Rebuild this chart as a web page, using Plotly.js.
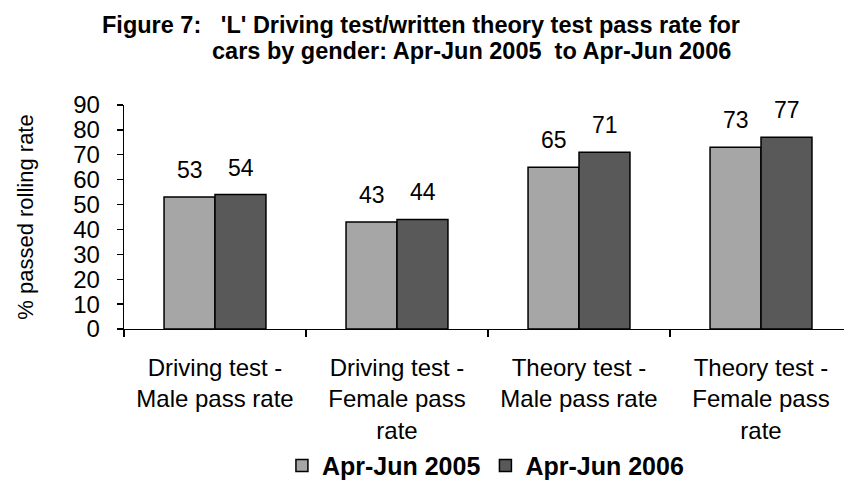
<!DOCTYPE html>
<html>
<head>
<meta charset="utf-8">
<script src="https://cdn.plot.ly/plotly-3.0.1.min.js"></script>
<style>html,body{margin:0;padding:0;background:#fff;}#chart{width:844px;height:489px;}</style>
</head>
<body>
<div id="chart"></div>
<script>
var categories = [
  "Driving test -<br>Male pass rate",
  "Driving test -<br>Female pass<br>rate",
  "Theory test -<br>Male pass rate",
  "Theory test -<br>Female pass<br>rate"
];
var seriesNames = ["Apr-Jun 2005", "Apr-Jun 2006"];
var values2005 = [53, 43, 65, 73];
var values2006 = [54, 44, 71, 77];
var titleLine1 = "Figure 7:&nbsp;&nbsp; 'L' Driving test/written theory test pass rate for";
var titleLine2 = "cars by gender: Apr-Jun 2005&nbsp; to Apr-Jun 2006";
var yTitle = "% passed rolling rate";
var yTicks = [0, 10, 20, 30, 40, 50, 60, 70, 80, 90];

var FONT = "Arial, 'Liberation Sans', sans-serif";
var colors = ["#A6A6A6", "#595959"];
var seriesValues = [values2005, values2006];

var traces = seriesValues.map(function (vals, i) {
  return {
    type: "bar",
    name: seriesNames[i],
    x: categories,
    y: vals,
    marker: { color: colors[i], line: { color: "#000", width: 1.5 } },
    hoverinfo: "none"
  };
});

var annotations = [];
seriesValues.forEach(function (vals, i) {
  vals.forEach(function (v, j) {
    annotations.push({
      x: categories[j], y: v, xref: "x", yref: "y",
      text: String(v), showarrow: false,
      xshift: i === 0 ? -25.5 : 25.5, yshift: 27,
      yanchor: "middle", xanchor: "center",
      font: { family: FONT, size: 23, color: "#000" }
    });
  });
});
annotations.push({
  xref: "paper", yref: "paper", x: 0.4125, y: 1.359, xanchor: "center", yanchor: "middle",
  text: "<b>" + titleLine1 + "</b>", showarrow: false,
  font: { family: FONT, size: 23.5, color: "#000" }
});
annotations.push({
  xref: "paper", yref: "paper", x: 0.4826, y: 1.24, xanchor: "center", yanchor: "middle",
  text: "<b>" + titleLine2 + "</b>", showarrow: false,
  font: { family: FONT, size: 23.5, color: "#000" }
});

var layout = {
  width: 844, height: 489,
  margin: { l: 124, r: 0, t: 105, b: 153, pad: 0 },
  paper_bgcolor: "#fff", plot_bgcolor: "#fff",
  barmode: "group", bargap: 0.44, bargroupgap: 0,
  showlegend: true,
  legend: {
    orientation: "h", x: 0.502, xanchor: "center", y: -0.61, yanchor: "middle",
    font: { family: FONT, size: 25, color: "#000", weight: "bold" },
    traceorder: "normal", itemclick: false, itemdoubleclick: false
  },
  xaxis: {
    type: "category", range: [-0.5, 3.456],
    showline: true, linecolor: "#000", linewidth: 1.3,
    ticks: "outside", ticklen: 7, tickcolor: "#000", tickwidth: 1.3,
    tickson: "boundaries", showgrid: false, zeroline: false,
    tickfont: { family: FONT, size: 24, color: "#000" },
    ticklabelstandoff: 17, fixedrange: true
  },
  yaxis: {
    range: [0, 90], tickvals: yTicks, ticktext: yTicks.map(String),
    showline: true, linecolor: "#000", linewidth: 1.3,
    ticks: "outside", ticklen: 6, tickcolor: "#000", tickwidth: 1.3,
    showgrid: false, zeroline: false,
    tickfont: { family: FONT, size: 24, color: "#000" },
    ticklabelstandoff: 12,
    title: { text: yTitle, standoff: 33, font: { family: FONT, size: 22, color: "#000" } },
    automargin: false, fixedrange: true
  },
  annotations: annotations
};

Plotly.newPlot("chart", traces, layout, { staticPlot: true, displayModeBar: false });
</script>
</body>
</html>
